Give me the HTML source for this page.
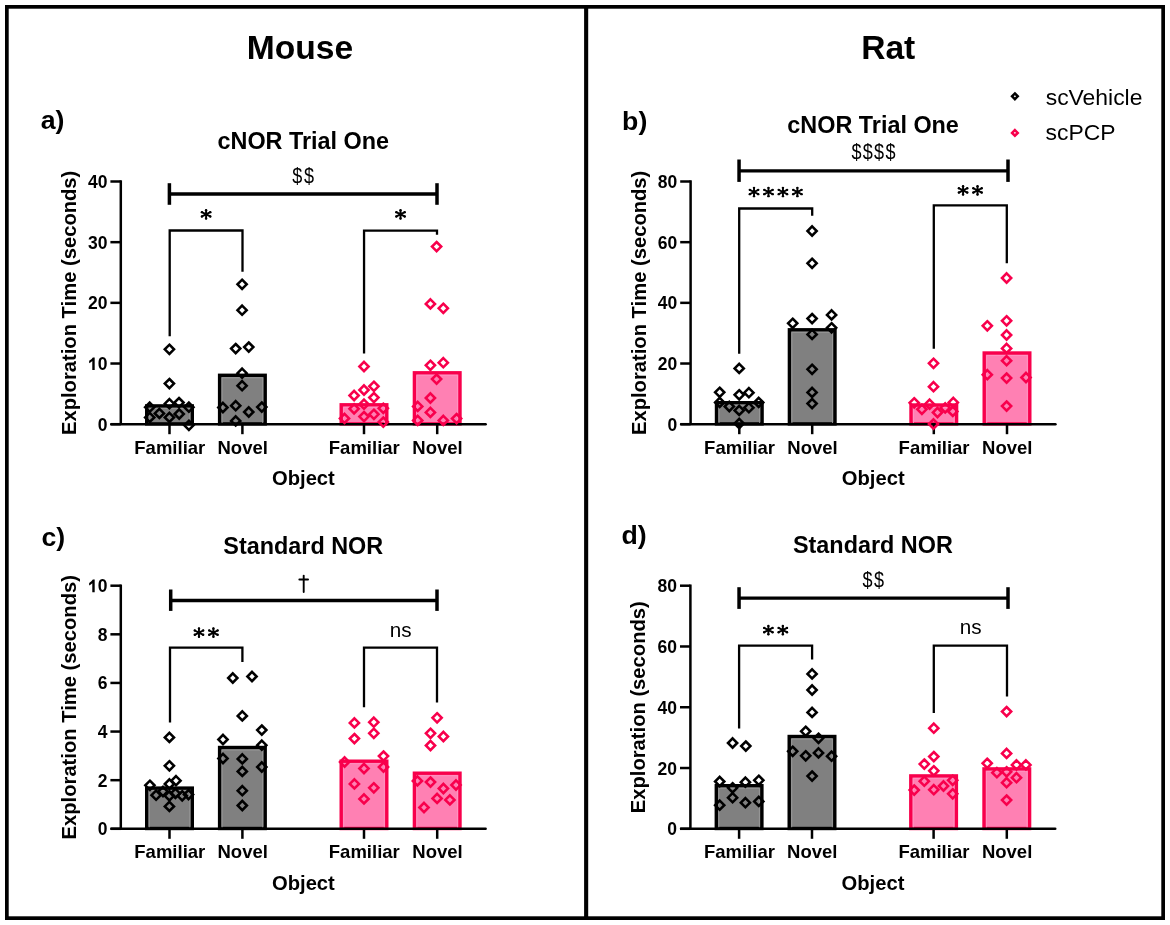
<!DOCTYPE html>
<html><head><meta charset="utf-8"><title>Figure</title>
<style>
html,body{margin:0;padding:0;background:#fff;width:1170px;height:925px;overflow:hidden;}
svg{display:block;will-change:transform;}
text{font-family:"Liberation Sans", sans-serif;fill:#000;}
</style></head><body>
<svg width="1170" height="925" viewBox="0 0 1170 925">
<rect width="1170" height="925" fill="#fff"/>
<rect x="6.85" y="6.85" width="1156.3" height="911.3" fill="none" stroke="#000" stroke-width="3.7"/>
<rect x="584.1" y="5" width="4.1" height="915" fill="#000"/>
<text x="300.00" y="59.30" font-size="33.6" font-weight="bold" text-anchor="middle" >Mouse</text>
<text x="888.20" y="59.40" font-size="33.6" font-weight="bold" text-anchor="middle" >Rat</text>
<text x="40.70" y="129.30" font-size="26.7" font-weight="bold" text-anchor="start" >a)</text>
<text x="622.10" y="129.60" font-size="26.7" font-weight="bold" text-anchor="start" >b)</text>
<text x="41.50" y="546.20" font-size="26.7" font-weight="bold" text-anchor="start" >c)</text>
<text x="621.40" y="544.20" font-size="26.7" font-weight="bold" text-anchor="start" >d)</text>
<text x="303.30" y="149.40" font-size="23.4" font-weight="bold" text-anchor="middle" >cNOR Trial One</text>
<text transform="translate(75.70,302.85) rotate(-90)" x="0" y="0" font-size="20.2" font-weight="bold" text-anchor="middle">Exploration Time (seconds)</text>
<rect x="146.70" y="405.90" width="45.6" height="18.00" fill="#808080" stroke="#000" stroke-width="3.4"/>
<path d="M149.20 422.90V408.40H189.80V422.90" fill="none" stroke="#989898" stroke-width="1"/>
<rect x="219.60" y="375.30" width="45.6" height="48.60" fill="#808080" stroke="#000" stroke-width="3.4"/>
<path d="M222.10 422.90V377.80H262.70V422.90" fill="none" stroke="#989898" stroke-width="1"/>
<rect x="341.20" y="404.80" width="45.6" height="19.10" fill="#ff80b3" stroke="#f8004c" stroke-width="3.4"/>
<path d="M343.70 422.90V407.30H384.30V422.90" fill="none" stroke="#ff92c0" stroke-width="1"/>
<rect x="414.40" y="372.80" width="45.6" height="51.10" fill="#ff80b3" stroke="#f8004c" stroke-width="3.4"/>
<path d="M416.90 422.90V375.30H457.50V422.90" fill="none" stroke="#ff92c0" stroke-width="1"/>
<line x1="120.80" y1="180.30" x2="120.80" y2="424.20" stroke="#000" stroke-width="2.5" stroke-linecap="butt"/>
<line x1="111.50" y1="424.20" x2="485.60" y2="424.20" stroke="#000" stroke-width="2.6" stroke-linecap="round"/>
<line x1="110.40" y1="424.20" x2="120.80" y2="424.20" stroke="#000" stroke-width="2.5" stroke-linecap="butt"/>
<text x="107.40" y="430.70" font-size="17.5" font-weight="bold" text-anchor="end" >0</text>
<line x1="110.40" y1="363.52" x2="120.80" y2="363.52" stroke="#000" stroke-width="2.5" stroke-linecap="butt"/>
<path d="M92.29 370.02H94.69V357.42H92.84Q91.74 359.42 89.14 360.72V363.32Q90.94 362.52 92.29 361.12Z" fill="#000"/>
<text x="107.40" y="370.02" font-size="17.5" font-weight="bold" text-anchor="end" >0</text>
<line x1="110.40" y1="302.85" x2="120.80" y2="302.85" stroke="#000" stroke-width="2.5" stroke-linecap="butt"/>
<text x="107.40" y="309.35" font-size="17.5" font-weight="bold" text-anchor="end" >20</text>
<line x1="110.40" y1="242.17" x2="120.80" y2="242.17" stroke="#000" stroke-width="2.5" stroke-linecap="butt"/>
<text x="107.40" y="248.67" font-size="17.5" font-weight="bold" text-anchor="end" >30</text>
<line x1="110.40" y1="181.50" x2="120.80" y2="181.50" stroke="#000" stroke-width="2.5" stroke-linecap="butt"/>
<text x="107.40" y="188.00" font-size="17.5" font-weight="bold" text-anchor="end" >40</text>
<line x1="169.50" y1="424.20" x2="169.50" y2="434.20" stroke="#000" stroke-width="2.5" stroke-linecap="butt"/>
<line x1="242.40" y1="424.20" x2="242.40" y2="434.20" stroke="#000" stroke-width="2.5" stroke-linecap="butt"/>
<line x1="364.00" y1="424.20" x2="364.00" y2="434.20" stroke="#000" stroke-width="2.5" stroke-linecap="butt"/>
<line x1="437.20" y1="424.20" x2="437.20" y2="434.20" stroke="#000" stroke-width="2.5" stroke-linecap="butt"/>
<path d="M169.40 344.70L174.00 349.30L169.40 353.90L164.80 349.30Z" fill="none" stroke="#000" stroke-width="2.55" stroke-linejoin="miter"/>
<path d="M169.40 379.00L174.00 383.60L169.40 388.20L164.80 383.60Z" fill="none" stroke="#000" stroke-width="2.55" stroke-linejoin="miter"/>
<path d="M169.40 399.10L174.00 403.70L169.40 408.30L164.80 403.70Z" fill="none" stroke="#000" stroke-width="2.55" stroke-linejoin="miter"/>
<path d="M179.00 398.00L183.60 402.60L179.00 407.20L174.40 402.60Z" fill="none" stroke="#000" stroke-width="2.55" stroke-linejoin="miter"/>
<path d="M149.70 402.60L154.30 407.20L149.70 411.80L145.10 407.20Z" fill="none" stroke="#000" stroke-width="2.55" stroke-linejoin="miter"/>
<path d="M159.40 408.80L164.00 413.40L159.40 418.00L154.80 413.40Z" fill="none" stroke="#000" stroke-width="2.55" stroke-linejoin="miter"/>
<path d="M169.40 412.80L174.00 417.40L169.40 422.00L164.80 417.40Z" fill="none" stroke="#000" stroke-width="2.55" stroke-linejoin="miter"/>
<path d="M179.20 409.40L183.80 414.00L179.20 418.60L174.60 414.00Z" fill="none" stroke="#000" stroke-width="2.55" stroke-linejoin="miter"/>
<path d="M188.90 402.60L193.50 407.20L188.90 411.80L184.30 407.20Z" fill="none" stroke="#000" stroke-width="2.55" stroke-linejoin="miter"/>
<path d="M188.90 420.70L193.50 425.30L188.90 429.90L184.30 425.30Z" fill="none" stroke="#000" stroke-width="2.55" stroke-linejoin="miter"/>
<path d="M149.70 412.80L154.30 417.40L149.70 422.00L145.10 417.40Z" fill="none" stroke="#000" stroke-width="2.55" stroke-linejoin="miter"/>
<path d="M242.10 279.70L246.70 284.30L242.10 288.90L237.50 284.30Z" fill="none" stroke="#000" stroke-width="2.55" stroke-linejoin="miter"/>
<path d="M242.10 305.60L246.70 310.20L242.10 314.80L237.50 310.20Z" fill="none" stroke="#000" stroke-width="2.55" stroke-linejoin="miter"/>
<path d="M235.70 344.00L240.30 348.60L235.70 353.20L231.10 348.60Z" fill="none" stroke="#000" stroke-width="2.55" stroke-linejoin="miter"/>
<path d="M248.75 342.50L253.35 347.10L248.75 351.70L244.15 347.10Z" fill="none" stroke="#000" stroke-width="2.55" stroke-linejoin="miter"/>
<path d="M242.10 368.60L246.70 373.20L242.10 377.80L237.50 373.20Z" fill="none" stroke="#000" stroke-width="2.55" stroke-linejoin="miter"/>
<path d="M242.10 381.10L246.70 385.70L242.10 390.30L237.50 385.70Z" fill="none" stroke="#000" stroke-width="2.55" stroke-linejoin="miter"/>
<path d="M222.90 402.90L227.50 407.50L222.90 412.10L218.30 407.50Z" fill="none" stroke="#000" stroke-width="2.55" stroke-linejoin="miter"/>
<path d="M235.70 401.10L240.30 405.70L235.70 410.30L231.10 405.70Z" fill="none" stroke="#000" stroke-width="2.55" stroke-linejoin="miter"/>
<path d="M248.75 407.40L253.35 412.00L248.75 416.60L244.15 412.00Z" fill="none" stroke="#000" stroke-width="2.55" stroke-linejoin="miter"/>
<path d="M261.80 402.50L266.40 407.10L261.80 411.70L257.20 407.10Z" fill="none" stroke="#000" stroke-width="2.55" stroke-linejoin="miter"/>
<path d="M235.70 416.30L240.30 420.90L235.70 425.50L231.10 420.90Z" fill="none" stroke="#000" stroke-width="2.55" stroke-linejoin="miter"/>
<path d="M364.00 361.90L368.60 366.50L364.00 371.10L359.40 366.50Z" fill="none" stroke="#f8004c" stroke-width="2.55" stroke-linejoin="miter"/>
<path d="M373.90 381.70L378.50 386.30L373.90 390.90L369.30 386.30Z" fill="none" stroke="#f8004c" stroke-width="2.55" stroke-linejoin="miter"/>
<path d="M364.00 385.40L368.60 390.00L364.00 394.60L359.40 390.00Z" fill="none" stroke="#f8004c" stroke-width="2.55" stroke-linejoin="miter"/>
<path d="M354.10 390.90L358.70 395.50L354.10 400.10L349.50 395.50Z" fill="none" stroke="#f8004c" stroke-width="2.55" stroke-linejoin="miter"/>
<path d="M373.90 393.00L378.50 397.60L373.90 402.20L369.30 397.60Z" fill="none" stroke="#f8004c" stroke-width="2.55" stroke-linejoin="miter"/>
<path d="M364.00 399.60L368.60 404.20L364.00 408.80L359.40 404.20Z" fill="none" stroke="#f8004c" stroke-width="2.55" stroke-linejoin="miter"/>
<path d="M354.10 404.20L358.70 408.80L354.10 413.40L349.50 408.80Z" fill="none" stroke="#f8004c" stroke-width="2.55" stroke-linejoin="miter"/>
<path d="M383.30 403.70L387.90 408.30L383.30 412.90L378.70 408.30Z" fill="none" stroke="#f8004c" stroke-width="2.55" stroke-linejoin="miter"/>
<path d="M373.90 409.70L378.50 414.30L373.90 418.90L369.30 414.30Z" fill="none" stroke="#f8004c" stroke-width="2.55" stroke-linejoin="miter"/>
<path d="M364.00 412.00L368.60 416.60L364.00 421.20L359.40 416.60Z" fill="none" stroke="#f8004c" stroke-width="2.55" stroke-linejoin="miter"/>
<path d="M344.50 413.80L349.10 418.40L344.50 423.00L339.90 418.40Z" fill="none" stroke="#f8004c" stroke-width="2.55" stroke-linejoin="miter"/>
<path d="M383.30 417.50L387.90 422.10L383.30 426.70L378.70 422.10Z" fill="none" stroke="#f8004c" stroke-width="2.55" stroke-linejoin="miter"/>
<path d="M436.60 242.00L441.20 246.60L436.60 251.20L432.00 246.60Z" fill="none" stroke="#f8004c" stroke-width="2.55" stroke-linejoin="miter"/>
<path d="M430.40 299.30L435.00 303.90L430.40 308.50L425.80 303.90Z" fill="none" stroke="#f8004c" stroke-width="2.55" stroke-linejoin="miter"/>
<path d="M443.30 303.70L447.90 308.30L443.30 312.90L438.70 308.30Z" fill="none" stroke="#f8004c" stroke-width="2.55" stroke-linejoin="miter"/>
<path d="M430.40 360.70L435.00 365.30L430.40 369.90L425.80 365.30Z" fill="none" stroke="#f8004c" stroke-width="2.55" stroke-linejoin="miter"/>
<path d="M443.30 358.10L447.90 362.70L443.30 367.30L438.70 362.70Z" fill="none" stroke="#f8004c" stroke-width="2.55" stroke-linejoin="miter"/>
<path d="M436.60 374.50L441.20 379.10L436.60 383.70L432.00 379.10Z" fill="none" stroke="#f8004c" stroke-width="2.55" stroke-linejoin="miter"/>
<path d="M430.40 393.40L435.00 398.00L430.40 402.60L425.80 398.00Z" fill="none" stroke="#f8004c" stroke-width="2.55" stroke-linejoin="miter"/>
<path d="M417.70 401.80L422.30 406.40L417.70 411.00L413.10 406.40Z" fill="none" stroke="#f8004c" stroke-width="2.55" stroke-linejoin="miter"/>
<path d="M430.40 407.80L435.00 412.40L430.40 417.00L425.80 412.40Z" fill="none" stroke="#f8004c" stroke-width="2.55" stroke-linejoin="miter"/>
<path d="M417.70 415.80L422.30 420.40L417.70 425.00L413.10 420.40Z" fill="none" stroke="#f8004c" stroke-width="2.55" stroke-linejoin="miter"/>
<path d="M443.30 415.80L447.90 420.40L443.30 425.00L438.70 420.40Z" fill="none" stroke="#f8004c" stroke-width="2.55" stroke-linejoin="miter"/>
<path d="M456.60 414.00L461.20 418.60L456.60 423.20L452.00 418.60Z" fill="none" stroke="#f8004c" stroke-width="2.55" stroke-linejoin="miter"/>
<text x="169.80" y="453.70" font-size="18.5" font-weight="bold" text-anchor="middle" >Familiar</text>
<text x="242.70" y="453.70" font-size="18.5" font-weight="bold" text-anchor="middle" >Novel</text>
<text x="364.30" y="453.70" font-size="18.5" font-weight="bold" text-anchor="middle" >Familiar</text>
<text x="437.50" y="453.70" font-size="18.5" font-weight="bold" text-anchor="middle" >Novel</text>
<text x="303.40" y="485.00" font-size="20.2" font-weight="bold" text-anchor="middle" >Object</text>
<line x1="169.40" y1="194.00" x2="437.00" y2="194.00" stroke="#000" stroke-width="3.3" stroke-linecap="butt"/>
<line x1="169.40" y1="183.20" x2="169.40" y2="204.80" stroke="#000" stroke-width="3.5" stroke-linecap="butt"/>
<line x1="437.00" y1="183.20" x2="437.00" y2="204.80" stroke="#000" stroke-width="3.5" stroke-linecap="butt"/>
<text transform="translate(297.20,182.80) scale(0.82,1)" font-size="22" font-weight="normal" text-anchor="middle">$</text>
<text transform="translate(308.90,182.80) scale(0.82,1)" font-size="22" font-weight="normal" text-anchor="middle">$</text>
<path d="M169.70 336.30V230.50H242.50V271.70" fill="none" stroke="#000" stroke-width="2.3" stroke-linejoin="miter"/>
<path d="M206.10 214.30L206.10 210.15M206.10 214.30L206.10 218.45M206.10 214.30L201.91 212.17M206.10 214.30L201.91 216.43M206.10 214.30L210.29 212.17M206.10 214.30L210.29 216.43" stroke="#000" stroke-width="1.9" stroke-linecap="round" fill="none"/>
<circle cx="206.10" cy="210.15" r="1.2" fill="#000"/>
<circle cx="206.10" cy="218.45" r="1.2" fill="#000"/>
<circle cx="201.91" cy="212.17" r="1.2" fill="#000"/>
<circle cx="201.91" cy="216.43" r="1.2" fill="#000"/>
<circle cx="210.29" cy="212.17" r="1.2" fill="#000"/>
<circle cx="210.29" cy="216.43" r="1.2" fill="#000"/>
<path d="M364.05 353.50V230.60H437.00V234.80" fill="none" stroke="#000" stroke-width="2.3" stroke-linejoin="miter"/>
<path d="M400.52 214.30L400.52 210.15M400.52 214.30L400.52 218.45M400.52 214.30L396.34 212.17M400.52 214.30L396.34 216.43M400.52 214.30L404.71 212.17M400.52 214.30L404.71 216.43" stroke="#000" stroke-width="1.9" stroke-linecap="round" fill="none"/>
<circle cx="400.52" cy="210.15" r="1.2" fill="#000"/>
<circle cx="400.52" cy="218.45" r="1.2" fill="#000"/>
<circle cx="396.34" cy="212.17" r="1.2" fill="#000"/>
<circle cx="396.34" cy="216.43" r="1.2" fill="#000"/>
<circle cx="404.71" cy="212.17" r="1.2" fill="#000"/>
<circle cx="404.71" cy="216.43" r="1.2" fill="#000"/>
<text x="873.10" y="132.70" font-size="23.4" font-weight="bold" text-anchor="middle" >cNOR Trial One</text>
<text transform="translate(645.50,302.85) rotate(-90)" x="0" y="0" font-size="20.2" font-weight="bold" text-anchor="middle">Exploration Time (seconds)</text>
<rect x="716.50" y="402.70" width="45.6" height="21.20" fill="#808080" stroke="#000" stroke-width="3.4"/>
<path d="M719.00 422.90V405.20H759.60V422.90" fill="none" stroke="#989898" stroke-width="1"/>
<rect x="789.40" y="329.80" width="45.6" height="94.10" fill="#808080" stroke="#000" stroke-width="3.4"/>
<path d="M791.90 422.90V332.30H832.50V422.90" fill="none" stroke="#989898" stroke-width="1"/>
<rect x="911.00" y="405.00" width="45.6" height="18.90" fill="#ff80b3" stroke="#f8004c" stroke-width="3.4"/>
<path d="M913.50 422.90V407.50H954.10V422.90" fill="none" stroke="#ff92c0" stroke-width="1"/>
<rect x="984.20" y="353.00" width="45.6" height="70.90" fill="#ff80b3" stroke="#f8004c" stroke-width="3.4"/>
<path d="M986.70 422.90V355.50H1027.30V422.90" fill="none" stroke="#ff92c0" stroke-width="1"/>
<line x1="690.60" y1="180.30" x2="690.60" y2="424.20" stroke="#000" stroke-width="2.5" stroke-linecap="butt"/>
<line x1="681.30" y1="424.20" x2="1055.40" y2="424.20" stroke="#000" stroke-width="2.6" stroke-linecap="round"/>
<line x1="680.20" y1="424.20" x2="690.60" y2="424.20" stroke="#000" stroke-width="2.5" stroke-linecap="butt"/>
<text x="677.20" y="430.70" font-size="17.5" font-weight="bold" text-anchor="end" >0</text>
<line x1="680.20" y1="363.52" x2="690.60" y2="363.52" stroke="#000" stroke-width="2.5" stroke-linecap="butt"/>
<text x="677.20" y="370.02" font-size="17.5" font-weight="bold" text-anchor="end" >20</text>
<line x1="680.20" y1="302.85" x2="690.60" y2="302.85" stroke="#000" stroke-width="2.5" stroke-linecap="butt"/>
<text x="677.20" y="309.35" font-size="17.5" font-weight="bold" text-anchor="end" >40</text>
<line x1="680.20" y1="242.17" x2="690.60" y2="242.17" stroke="#000" stroke-width="2.5" stroke-linecap="butt"/>
<text x="677.20" y="248.67" font-size="17.5" font-weight="bold" text-anchor="end" >60</text>
<line x1="680.20" y1="181.50" x2="690.60" y2="181.50" stroke="#000" stroke-width="2.5" stroke-linecap="butt"/>
<text x="677.20" y="188.00" font-size="17.5" font-weight="bold" text-anchor="end" >80</text>
<line x1="739.30" y1="424.20" x2="739.30" y2="434.20" stroke="#000" stroke-width="2.5" stroke-linecap="butt"/>
<line x1="812.20" y1="424.20" x2="812.20" y2="434.20" stroke="#000" stroke-width="2.5" stroke-linecap="butt"/>
<line x1="933.80" y1="424.20" x2="933.80" y2="434.20" stroke="#000" stroke-width="2.5" stroke-linecap="butt"/>
<line x1="1007.00" y1="424.20" x2="1007.00" y2="434.20" stroke="#000" stroke-width="2.5" stroke-linecap="butt"/>
<path d="M739.20 363.80L743.80 368.40L739.20 373.00L734.60 368.40Z" fill="none" stroke="#000" stroke-width="2.55" stroke-linejoin="miter"/>
<path d="M719.70 387.70L724.30 392.30L719.70 396.90L715.10 392.30Z" fill="none" stroke="#000" stroke-width="2.55" stroke-linejoin="miter"/>
<path d="M739.20 390.20L743.80 394.80L739.20 399.40L734.60 394.80Z" fill="none" stroke="#000" stroke-width="2.55" stroke-linejoin="miter"/>
<path d="M748.90 388.10L753.50 392.70L748.90 397.30L744.30 392.70Z" fill="none" stroke="#000" stroke-width="2.55" stroke-linejoin="miter"/>
<path d="M719.70 397.80L724.30 402.40L719.70 407.00L715.10 402.40Z" fill="none" stroke="#000" stroke-width="2.55" stroke-linejoin="miter"/>
<path d="M758.70 397.80L763.30 402.40L758.70 407.00L754.10 402.40Z" fill="none" stroke="#000" stroke-width="2.55" stroke-linejoin="miter"/>
<path d="M729.30 401.90L733.90 406.50L729.30 411.10L724.70 406.50Z" fill="none" stroke="#000" stroke-width="2.55" stroke-linejoin="miter"/>
<path d="M748.90 403.10L753.50 407.70L748.90 412.30L744.30 407.70Z" fill="none" stroke="#000" stroke-width="2.55" stroke-linejoin="miter"/>
<path d="M739.20 405.80L743.80 410.40L739.20 415.00L734.60 410.40Z" fill="none" stroke="#000" stroke-width="2.55" stroke-linejoin="miter"/>
<path d="M739.20 418.90L743.80 423.50L739.20 428.10L734.60 423.50Z" fill="none" stroke="#000" stroke-width="2.55" stroke-linejoin="miter"/>
<path d="M812.10 226.40L816.70 231.00L812.10 235.60L807.50 231.00Z" fill="none" stroke="#000" stroke-width="2.55" stroke-linejoin="miter"/>
<path d="M812.10 258.70L816.70 263.30L812.10 267.90L807.50 263.30Z" fill="none" stroke="#000" stroke-width="2.55" stroke-linejoin="miter"/>
<path d="M792.70 318.70L797.30 323.30L792.70 327.90L788.10 323.30Z" fill="none" stroke="#000" stroke-width="2.55" stroke-linejoin="miter"/>
<path d="M812.10 314.00L816.70 318.60L812.10 323.20L807.50 318.60Z" fill="none" stroke="#000" stroke-width="2.55" stroke-linejoin="miter"/>
<path d="M831.60 310.30L836.20 314.90L831.60 319.50L827.00 314.90Z" fill="none" stroke="#000" stroke-width="2.55" stroke-linejoin="miter"/>
<path d="M831.60 323.20L836.20 327.80L831.60 332.40L827.00 327.80Z" fill="none" stroke="#000" stroke-width="2.55" stroke-linejoin="miter"/>
<path d="M812.10 329.80L816.70 334.40L812.10 339.00L807.50 334.40Z" fill="none" stroke="#000" stroke-width="2.55" stroke-linejoin="miter"/>
<path d="M812.10 364.70L816.70 369.30L812.10 373.90L807.50 369.30Z" fill="none" stroke="#000" stroke-width="2.55" stroke-linejoin="miter"/>
<path d="M812.10 387.80L816.70 392.40L812.10 397.00L807.50 392.40Z" fill="none" stroke="#000" stroke-width="2.55" stroke-linejoin="miter"/>
<path d="M812.10 399.00L816.70 403.60L812.10 408.20L807.50 403.60Z" fill="none" stroke="#000" stroke-width="2.55" stroke-linejoin="miter"/>
<path d="M933.50 358.70L938.10 363.30L933.50 367.90L928.90 363.30Z" fill="none" stroke="#f8004c" stroke-width="2.55" stroke-linejoin="miter"/>
<path d="M933.50 382.10L938.10 386.70L933.50 391.30L928.90 386.70Z" fill="none" stroke="#f8004c" stroke-width="2.55" stroke-linejoin="miter"/>
<path d="M914.20 398.20L918.80 402.80L914.20 407.40L909.60 402.80Z" fill="none" stroke="#f8004c" stroke-width="2.55" stroke-linejoin="miter"/>
<path d="M929.60 399.60L934.20 404.20L929.60 408.80L925.00 404.20Z" fill="none" stroke="#f8004c" stroke-width="2.55" stroke-linejoin="miter"/>
<path d="M953.30 397.80L957.90 402.40L953.30 407.00L948.70 402.40Z" fill="none" stroke="#f8004c" stroke-width="2.55" stroke-linejoin="miter"/>
<path d="M921.90 404.70L926.50 409.30L921.90 413.90L917.30 409.30Z" fill="none" stroke="#f8004c" stroke-width="2.55" stroke-linejoin="miter"/>
<path d="M937.50 407.90L942.10 412.50L937.50 417.10L932.90 412.50Z" fill="none" stroke="#f8004c" stroke-width="2.55" stroke-linejoin="miter"/>
<path d="M945.20 403.30L949.80 407.90L945.20 412.50L940.60 407.90Z" fill="none" stroke="#f8004c" stroke-width="2.55" stroke-linejoin="miter"/>
<path d="M952.80 406.80L957.40 411.40L952.80 416.00L948.20 411.40Z" fill="none" stroke="#f8004c" stroke-width="2.55" stroke-linejoin="miter"/>
<path d="M933.50 419.40L938.10 424.00L933.50 428.60L928.90 424.00Z" fill="none" stroke="#f8004c" stroke-width="2.55" stroke-linejoin="miter"/>
<path d="M1006.60 273.40L1011.20 278.00L1006.60 282.60L1002.00 278.00Z" fill="none" stroke="#f8004c" stroke-width="2.55" stroke-linejoin="miter"/>
<path d="M987.30 321.20L991.90 325.80L987.30 330.40L982.70 325.80Z" fill="none" stroke="#f8004c" stroke-width="2.55" stroke-linejoin="miter"/>
<path d="M1006.60 316.20L1011.20 320.80L1006.60 325.40L1002.00 320.80Z" fill="none" stroke="#f8004c" stroke-width="2.55" stroke-linejoin="miter"/>
<path d="M1006.60 330.40L1011.20 335.00L1006.60 339.60L1002.00 335.00Z" fill="none" stroke="#f8004c" stroke-width="2.55" stroke-linejoin="miter"/>
<path d="M1006.60 343.80L1011.20 348.40L1006.60 353.00L1002.00 348.40Z" fill="none" stroke="#f8004c" stroke-width="2.55" stroke-linejoin="miter"/>
<path d="M1006.60 356.10L1011.20 360.70L1006.60 365.30L1002.00 360.70Z" fill="none" stroke="#f8004c" stroke-width="2.55" stroke-linejoin="miter"/>
<path d="M987.30 370.10L991.90 374.70L987.30 379.30L982.70 374.70Z" fill="none" stroke="#f8004c" stroke-width="2.55" stroke-linejoin="miter"/>
<path d="M1006.60 373.50L1011.20 378.10L1006.60 382.70L1002.00 378.10Z" fill="none" stroke="#f8004c" stroke-width="2.55" stroke-linejoin="miter"/>
<path d="M1026.00 372.90L1030.60 377.50L1026.00 382.10L1021.40 377.50Z" fill="none" stroke="#f8004c" stroke-width="2.55" stroke-linejoin="miter"/>
<path d="M1006.60 401.50L1011.20 406.10L1006.60 410.70L1002.00 406.10Z" fill="none" stroke="#f8004c" stroke-width="2.55" stroke-linejoin="miter"/>
<text x="739.60" y="453.70" font-size="18.5" font-weight="bold" text-anchor="middle" >Familiar</text>
<text x="812.50" y="453.70" font-size="18.5" font-weight="bold" text-anchor="middle" >Novel</text>
<text x="934.10" y="453.70" font-size="18.5" font-weight="bold" text-anchor="middle" >Familiar</text>
<text x="1007.30" y="453.70" font-size="18.5" font-weight="bold" text-anchor="middle" >Novel</text>
<text x="873.20" y="485.00" font-size="20.2" font-weight="bold" text-anchor="middle" >Object</text>
<line x1="739.05" y1="170.85" x2="1008.00" y2="170.85" stroke="#000" stroke-width="3.3" stroke-linecap="butt"/>
<line x1="739.05" y1="159.50" x2="739.05" y2="181.90" stroke="#000" stroke-width="3.5" stroke-linecap="butt"/>
<line x1="1008.00" y1="159.50" x2="1008.00" y2="181.90" stroke="#000" stroke-width="3.5" stroke-linecap="butt"/>
<text transform="translate(856.40,159.20) scale(0.82,1)" font-size="22" font-weight="normal" text-anchor="middle">$</text>
<text transform="translate(867.70,159.20) scale(0.82,1)" font-size="22" font-weight="normal" text-anchor="middle">$</text>
<text transform="translate(879.00,159.20) scale(0.82,1)" font-size="22" font-weight="normal" text-anchor="middle">$</text>
<text transform="translate(890.40,159.20) scale(0.82,1)" font-size="22" font-weight="normal" text-anchor="middle">$</text>
<path d="M739.20 353.80V208.50H812.20V215.80" fill="none" stroke="#000" stroke-width="2.3" stroke-linejoin="miter"/>
<path d="M754.03 192.00L754.03 187.85M754.03 192.00L754.03 196.15M754.03 192.00L749.84 189.87M754.03 192.00L749.84 194.13M754.03 192.00L758.21 189.87M754.03 192.00L758.21 194.13" stroke="#000" stroke-width="1.9" stroke-linecap="round" fill="none"/>
<circle cx="754.03" cy="187.85" r="1.2" fill="#000"/>
<circle cx="754.03" cy="196.15" r="1.2" fill="#000"/>
<circle cx="749.84" cy="189.87" r="1.2" fill="#000"/>
<circle cx="749.84" cy="194.13" r="1.2" fill="#000"/>
<circle cx="758.21" cy="189.87" r="1.2" fill="#000"/>
<circle cx="758.21" cy="194.13" r="1.2" fill="#000"/>
<path d="M768.48 192.00L768.48 187.85M768.48 192.00L768.48 196.15M768.48 192.00L764.29 189.87M768.48 192.00L764.29 194.13M768.48 192.00L772.66 189.87M768.48 192.00L772.66 194.13" stroke="#000" stroke-width="1.9" stroke-linecap="round" fill="none"/>
<circle cx="768.48" cy="187.85" r="1.2" fill="#000"/>
<circle cx="768.48" cy="196.15" r="1.2" fill="#000"/>
<circle cx="764.29" cy="189.87" r="1.2" fill="#000"/>
<circle cx="764.29" cy="194.13" r="1.2" fill="#000"/>
<circle cx="772.66" cy="189.87" r="1.2" fill="#000"/>
<circle cx="772.66" cy="194.13" r="1.2" fill="#000"/>
<path d="M782.93 192.00L782.93 187.85M782.93 192.00L782.93 196.15M782.93 192.00L778.74 189.87M782.93 192.00L778.74 194.13M782.93 192.00L787.11 189.87M782.93 192.00L787.11 194.13" stroke="#000" stroke-width="1.9" stroke-linecap="round" fill="none"/>
<circle cx="782.93" cy="187.85" r="1.2" fill="#000"/>
<circle cx="782.93" cy="196.15" r="1.2" fill="#000"/>
<circle cx="778.74" cy="189.87" r="1.2" fill="#000"/>
<circle cx="778.74" cy="194.13" r="1.2" fill="#000"/>
<circle cx="787.11" cy="189.87" r="1.2" fill="#000"/>
<circle cx="787.11" cy="194.13" r="1.2" fill="#000"/>
<path d="M797.38 192.00L797.38 187.85M797.38 192.00L797.38 196.15M797.38 192.00L793.19 189.87M797.38 192.00L793.19 194.13M797.38 192.00L801.56 189.87M797.38 192.00L801.56 194.13" stroke="#000" stroke-width="1.9" stroke-linecap="round" fill="none"/>
<circle cx="797.38" cy="187.85" r="1.2" fill="#000"/>
<circle cx="797.38" cy="196.15" r="1.2" fill="#000"/>
<circle cx="793.19" cy="189.87" r="1.2" fill="#000"/>
<circle cx="793.19" cy="194.13" r="1.2" fill="#000"/>
<circle cx="801.56" cy="189.87" r="1.2" fill="#000"/>
<circle cx="801.56" cy="194.13" r="1.2" fill="#000"/>
<path d="M933.80 348.70V205.40H1006.80V263.20" fill="none" stroke="#000" stroke-width="2.3" stroke-linejoin="miter"/>
<path d="M963.07 190.40L963.07 186.25M963.07 190.40L963.07 194.55M963.07 190.40L958.89 188.27M963.07 190.40L958.89 192.53M963.07 190.40L967.26 188.27M963.07 190.40L967.26 192.53" stroke="#000" stroke-width="1.9" stroke-linecap="round" fill="none"/>
<circle cx="963.07" cy="186.25" r="1.2" fill="#000"/>
<circle cx="963.07" cy="194.55" r="1.2" fill="#000"/>
<circle cx="958.89" cy="188.27" r="1.2" fill="#000"/>
<circle cx="958.89" cy="192.53" r="1.2" fill="#000"/>
<circle cx="967.26" cy="188.27" r="1.2" fill="#000"/>
<circle cx="967.26" cy="192.53" r="1.2" fill="#000"/>
<path d="M977.52 190.40L977.52 186.25M977.52 190.40L977.52 194.55M977.52 190.40L973.34 188.27M977.52 190.40L973.34 192.53M977.52 190.40L981.71 188.27M977.52 190.40L981.71 192.53" stroke="#000" stroke-width="1.9" stroke-linecap="round" fill="none"/>
<circle cx="977.52" cy="186.25" r="1.2" fill="#000"/>
<circle cx="977.52" cy="194.55" r="1.2" fill="#000"/>
<circle cx="973.34" cy="188.27" r="1.2" fill="#000"/>
<circle cx="973.34" cy="192.53" r="1.2" fill="#000"/>
<circle cx="981.71" cy="188.27" r="1.2" fill="#000"/>
<circle cx="981.71" cy="192.53" r="1.2" fill="#000"/>
<text x="303.30" y="553.50" font-size="23.4" font-weight="bold" text-anchor="middle" >Standard NOR</text>
<text transform="translate(75.70,707.25) rotate(-90)" x="0" y="0" font-size="20.2" font-weight="bold" text-anchor="middle">Exploration Time (seconds)</text>
<rect x="146.70" y="788.10" width="45.6" height="40.40" fill="#808080" stroke="#000" stroke-width="3.4"/>
<path d="M149.20 827.50V790.60H189.80V827.50" fill="none" stroke="#989898" stroke-width="1"/>
<rect x="219.60" y="747.50" width="45.6" height="81.00" fill="#808080" stroke="#000" stroke-width="3.4"/>
<path d="M222.10 827.50V750.00H262.70V827.50" fill="none" stroke="#989898" stroke-width="1"/>
<rect x="341.20" y="761.20" width="45.6" height="67.30" fill="#ff80b3" stroke="#f8004c" stroke-width="3.4"/>
<path d="M343.70 827.50V763.70H384.30V827.50" fill="none" stroke="#ff92c0" stroke-width="1"/>
<rect x="414.40" y="773.20" width="45.6" height="55.30" fill="#ff80b3" stroke="#f8004c" stroke-width="3.4"/>
<path d="M416.90 827.50V775.70H457.50V827.50" fill="none" stroke="#ff92c0" stroke-width="1"/>
<line x1="120.80" y1="584.50" x2="120.80" y2="828.80" stroke="#000" stroke-width="2.5" stroke-linecap="butt"/>
<line x1="111.50" y1="828.80" x2="485.60" y2="828.80" stroke="#000" stroke-width="2.6" stroke-linecap="round"/>
<line x1="110.40" y1="828.80" x2="120.80" y2="828.80" stroke="#000" stroke-width="2.5" stroke-linecap="butt"/>
<text x="107.40" y="835.30" font-size="17.5" font-weight="bold" text-anchor="end" >0</text>
<line x1="110.40" y1="780.18" x2="120.80" y2="780.18" stroke="#000" stroke-width="2.5" stroke-linecap="butt"/>
<text x="107.40" y="786.68" font-size="17.5" font-weight="bold" text-anchor="end" >2</text>
<line x1="110.40" y1="731.56" x2="120.80" y2="731.56" stroke="#000" stroke-width="2.5" stroke-linecap="butt"/>
<text x="107.40" y="738.06" font-size="17.5" font-weight="bold" text-anchor="end" >4</text>
<line x1="110.40" y1="682.94" x2="120.80" y2="682.94" stroke="#000" stroke-width="2.5" stroke-linecap="butt"/>
<text x="107.40" y="689.44" font-size="17.5" font-weight="bold" text-anchor="end" >6</text>
<line x1="110.40" y1="634.32" x2="120.80" y2="634.32" stroke="#000" stroke-width="2.5" stroke-linecap="butt"/>
<text x="107.40" y="640.82" font-size="17.5" font-weight="bold" text-anchor="end" >8</text>
<line x1="110.40" y1="585.70" x2="120.80" y2="585.70" stroke="#000" stroke-width="2.5" stroke-linecap="butt"/>
<path d="M92.29 592.20H94.69V579.60H92.84Q91.74 581.60 89.14 582.90V585.50Q90.94 584.70 92.29 583.30Z" fill="#000"/>
<text x="107.40" y="592.20" font-size="17.5" font-weight="bold" text-anchor="end" >0</text>
<line x1="169.50" y1="828.80" x2="169.50" y2="838.80" stroke="#000" stroke-width="2.5" stroke-linecap="butt"/>
<line x1="242.40" y1="828.80" x2="242.40" y2="838.80" stroke="#000" stroke-width="2.5" stroke-linecap="butt"/>
<line x1="364.00" y1="828.80" x2="364.00" y2="838.80" stroke="#000" stroke-width="2.5" stroke-linecap="butt"/>
<line x1="437.20" y1="828.80" x2="437.20" y2="838.80" stroke="#000" stroke-width="2.5" stroke-linecap="butt"/>
<path d="M169.40 732.80L174.00 737.40L169.40 742.00L164.80 737.40Z" fill="none" stroke="#000" stroke-width="2.55" stroke-linejoin="miter"/>
<path d="M169.40 761.20L174.00 765.80L169.40 770.40L164.80 765.80Z" fill="none" stroke="#000" stroke-width="2.55" stroke-linejoin="miter"/>
<path d="M176.00 776.10L180.60 780.70L176.00 785.30L171.40 780.70Z" fill="none" stroke="#000" stroke-width="2.55" stroke-linejoin="miter"/>
<path d="M169.40 779.40L174.00 784.00L169.40 788.60L164.80 784.00Z" fill="none" stroke="#000" stroke-width="2.55" stroke-linejoin="miter"/>
<path d="M149.90 780.70L154.50 785.30L149.90 789.90L145.30 785.30Z" fill="none" stroke="#000" stroke-width="2.55" stroke-linejoin="miter"/>
<path d="M163.00 786.90L167.60 791.50L163.00 796.10L158.40 791.50Z" fill="none" stroke="#000" stroke-width="2.55" stroke-linejoin="miter"/>
<path d="M156.10 790.60L160.70 795.20L156.10 799.80L151.50 795.20Z" fill="none" stroke="#000" stroke-width="2.55" stroke-linejoin="miter"/>
<path d="M169.40 791.20L174.00 795.80L169.40 800.40L164.80 795.80Z" fill="none" stroke="#000" stroke-width="2.55" stroke-linejoin="miter"/>
<path d="M175.40 788.80L180.00 793.40L175.40 798.00L170.80 793.40Z" fill="none" stroke="#000" stroke-width="2.55" stroke-linejoin="miter"/>
<path d="M182.20 791.20L186.80 795.80L182.20 800.40L177.60 795.80Z" fill="none" stroke="#000" stroke-width="2.55" stroke-linejoin="miter"/>
<path d="M188.50 790.00L193.10 794.60L188.50 799.20L183.90 794.60Z" fill="none" stroke="#000" stroke-width="2.55" stroke-linejoin="miter"/>
<path d="M169.40 801.80L174.00 806.40L169.40 811.00L164.80 806.40Z" fill="none" stroke="#000" stroke-width="2.55" stroke-linejoin="miter"/>
<path d="M232.80 673.40L237.40 678.00L232.80 682.60L228.20 678.00Z" fill="none" stroke="#000" stroke-width="2.55" stroke-linejoin="miter"/>
<path d="M252.00 671.90L256.60 676.50L252.00 681.10L247.40 676.50Z" fill="none" stroke="#000" stroke-width="2.55" stroke-linejoin="miter"/>
<path d="M242.30 711.30L246.90 715.90L242.30 720.50L237.70 715.90Z" fill="none" stroke="#000" stroke-width="2.55" stroke-linejoin="miter"/>
<path d="M261.80 725.50L266.40 730.10L261.80 734.70L257.20 730.10Z" fill="none" stroke="#000" stroke-width="2.55" stroke-linejoin="miter"/>
<path d="M223.00 734.90L227.60 739.50L223.00 744.10L218.40 739.50Z" fill="none" stroke="#000" stroke-width="2.55" stroke-linejoin="miter"/>
<path d="M261.80 740.60L266.40 745.20L261.80 749.80L257.20 745.20Z" fill="none" stroke="#000" stroke-width="2.55" stroke-linejoin="miter"/>
<path d="M223.00 753.90L227.60 758.50L223.00 763.10L218.40 758.50Z" fill="none" stroke="#000" stroke-width="2.55" stroke-linejoin="miter"/>
<path d="M242.30 754.30L246.90 758.90L242.30 763.50L237.70 758.90Z" fill="none" stroke="#000" stroke-width="2.55" stroke-linejoin="miter"/>
<path d="M242.30 766.80L246.90 771.40L242.30 776.00L237.70 771.40Z" fill="none" stroke="#000" stroke-width="2.55" stroke-linejoin="miter"/>
<path d="M261.80 762.40L266.40 767.00L261.80 771.60L257.20 767.00Z" fill="none" stroke="#000" stroke-width="2.55" stroke-linejoin="miter"/>
<path d="M242.30 786.10L246.90 790.70L242.30 795.30L237.70 790.70Z" fill="none" stroke="#000" stroke-width="2.55" stroke-linejoin="miter"/>
<path d="M242.30 800.90L246.90 805.50L242.30 810.10L237.70 805.50Z" fill="none" stroke="#000" stroke-width="2.55" stroke-linejoin="miter"/>
<path d="M354.40 718.30L359.00 722.90L354.40 727.50L349.80 722.90Z" fill="none" stroke="#f8004c" stroke-width="2.55" stroke-linejoin="miter"/>
<path d="M373.80 717.60L378.40 722.20L373.80 726.80L369.20 722.20Z" fill="none" stroke="#f8004c" stroke-width="2.55" stroke-linejoin="miter"/>
<path d="M354.40 734.00L359.00 738.60L354.40 743.20L349.80 738.60Z" fill="none" stroke="#f8004c" stroke-width="2.55" stroke-linejoin="miter"/>
<path d="M373.80 728.70L378.40 733.30L373.80 737.90L369.20 733.30Z" fill="none" stroke="#f8004c" stroke-width="2.55" stroke-linejoin="miter"/>
<path d="M383.50 751.50L388.10 756.10L383.50 760.70L378.90 756.10Z" fill="none" stroke="#f8004c" stroke-width="2.55" stroke-linejoin="miter"/>
<path d="M344.60 757.40L349.20 762.00L344.60 766.60L340.00 762.00Z" fill="none" stroke="#f8004c" stroke-width="2.55" stroke-linejoin="miter"/>
<path d="M364.00 763.90L368.60 768.50L364.00 773.10L359.40 768.50Z" fill="none" stroke="#f8004c" stroke-width="2.55" stroke-linejoin="miter"/>
<path d="M383.50 762.50L388.10 767.10L383.50 771.70L378.90 767.10Z" fill="none" stroke="#f8004c" stroke-width="2.55" stroke-linejoin="miter"/>
<path d="M354.40 779.30L359.00 783.90L354.40 788.50L349.80 783.90Z" fill="none" stroke="#f8004c" stroke-width="2.55" stroke-linejoin="miter"/>
<path d="M373.80 783.20L378.40 787.80L373.80 792.40L369.20 787.80Z" fill="none" stroke="#f8004c" stroke-width="2.55" stroke-linejoin="miter"/>
<path d="M364.00 794.30L368.60 798.90L364.00 803.50L359.40 798.90Z" fill="none" stroke="#f8004c" stroke-width="2.55" stroke-linejoin="miter"/>
<path d="M437.10 713.20L441.70 717.80L437.10 722.40L432.50 717.80Z" fill="none" stroke="#f8004c" stroke-width="2.55" stroke-linejoin="miter"/>
<path d="M430.50 728.70L435.10 733.30L430.50 737.90L425.90 733.30Z" fill="none" stroke="#f8004c" stroke-width="2.55" stroke-linejoin="miter"/>
<path d="M443.40 731.90L448.00 736.50L443.40 741.10L438.80 736.50Z" fill="none" stroke="#f8004c" stroke-width="2.55" stroke-linejoin="miter"/>
<path d="M430.50 740.90L435.10 745.50L430.50 750.10L425.90 745.50Z" fill="none" stroke="#f8004c" stroke-width="2.55" stroke-linejoin="miter"/>
<path d="M417.40 776.30L422.00 780.90L417.40 785.50L412.80 780.90Z" fill="none" stroke="#f8004c" stroke-width="2.55" stroke-linejoin="miter"/>
<path d="M430.50 777.50L435.10 782.10L430.50 786.70L425.90 782.10Z" fill="none" stroke="#f8004c" stroke-width="2.55" stroke-linejoin="miter"/>
<path d="M456.00 780.40L460.60 785.00L456.00 789.60L451.40 785.00Z" fill="none" stroke="#f8004c" stroke-width="2.55" stroke-linejoin="miter"/>
<path d="M443.40 783.90L448.00 788.50L443.40 793.10L438.80 788.50Z" fill="none" stroke="#f8004c" stroke-width="2.55" stroke-linejoin="miter"/>
<path d="M437.10 793.80L441.70 798.40L437.10 803.00L432.50 798.40Z" fill="none" stroke="#f8004c" stroke-width="2.55" stroke-linejoin="miter"/>
<path d="M449.90 795.30L454.50 799.90L449.90 804.50L445.30 799.90Z" fill="none" stroke="#f8004c" stroke-width="2.55" stroke-linejoin="miter"/>
<path d="M424.00 802.90L428.60 807.50L424.00 812.10L419.40 807.50Z" fill="none" stroke="#f8004c" stroke-width="2.55" stroke-linejoin="miter"/>
<text x="169.80" y="858.30" font-size="18.5" font-weight="bold" text-anchor="middle" >Familiar</text>
<text x="242.70" y="858.30" font-size="18.5" font-weight="bold" text-anchor="middle" >Novel</text>
<text x="364.30" y="858.30" font-size="18.5" font-weight="bold" text-anchor="middle" >Familiar</text>
<text x="437.50" y="858.30" font-size="18.5" font-weight="bold" text-anchor="middle" >Novel</text>
<text x="303.40" y="889.60" font-size="20.2" font-weight="bold" text-anchor="middle" >Object</text>
<line x1="170.70" y1="600.50" x2="437.00" y2="600.50" stroke="#000" stroke-width="3.3" stroke-linecap="butt"/>
<line x1="170.70" y1="589.50" x2="170.70" y2="610.90" stroke="#000" stroke-width="3.5" stroke-linecap="butt"/>
<line x1="437.00" y1="589.50" x2="437.00" y2="610.90" stroke="#000" stroke-width="3.5" stroke-linecap="butt"/>
<line x1="303.70" y1="575.70" x2="303.70" y2="592.00" stroke="#000" stroke-width="1.9" stroke-linecap="round"/>
<line x1="299.40" y1="579.60" x2="308.00" y2="579.60" stroke="#000" stroke-width="2.0" stroke-linecap="round"/>
<path d="M170.00 722.40V647.60H242.40V662.00" fill="none" stroke="#000" stroke-width="2.3" stroke-linejoin="miter"/>
<path d="M198.97 632.65L198.97 628.50M198.97 632.65L198.97 636.80M198.97 632.65L194.79 630.52M198.97 632.65L194.79 634.78M198.97 632.65L203.16 630.52M198.97 632.65L203.16 634.78" stroke="#000" stroke-width="1.9" stroke-linecap="round" fill="none"/>
<circle cx="198.97" cy="628.50" r="1.2" fill="#000"/>
<circle cx="198.97" cy="636.80" r="1.2" fill="#000"/>
<circle cx="194.79" cy="630.52" r="1.2" fill="#000"/>
<circle cx="194.79" cy="634.78" r="1.2" fill="#000"/>
<circle cx="203.16" cy="630.52" r="1.2" fill="#000"/>
<circle cx="203.16" cy="634.78" r="1.2" fill="#000"/>
<path d="M213.42 632.65L213.42 628.50M213.42 632.65L213.42 636.80M213.42 632.65L209.24 630.52M213.42 632.65L209.24 634.78M213.42 632.65L217.61 630.52M213.42 632.65L217.61 634.78" stroke="#000" stroke-width="1.9" stroke-linecap="round" fill="none"/>
<circle cx="213.42" cy="628.50" r="1.2" fill="#000"/>
<circle cx="213.42" cy="636.80" r="1.2" fill="#000"/>
<circle cx="209.24" cy="630.52" r="1.2" fill="#000"/>
<circle cx="209.24" cy="634.78" r="1.2" fill="#000"/>
<circle cx="217.61" cy="630.52" r="1.2" fill="#000"/>
<circle cx="217.61" cy="634.78" r="1.2" fill="#000"/>
<path d="M364.00 707.30V647.60H437.00V702.50" fill="none" stroke="#000" stroke-width="2.3" stroke-linejoin="miter"/>
<text x="400.80" y="636.60" font-size="20.7" font-weight="normal" text-anchor="middle" >ns</text>
<text x="872.90" y="553.40" font-size="23.4" font-weight="bold" text-anchor="middle" >Standard NOR</text>
<text transform="translate(645.30,707.25) rotate(-90)" x="0" y="0" font-size="20.2" font-weight="bold" text-anchor="middle">Exploration (seconds)</text>
<rect x="716.30" y="785.70" width="45.6" height="42.80" fill="#808080" stroke="#000" stroke-width="3.4"/>
<path d="M718.80 827.50V788.20H759.40V827.50" fill="none" stroke="#989898" stroke-width="1"/>
<rect x="789.20" y="736.50" width="45.6" height="92.00" fill="#808080" stroke="#000" stroke-width="3.4"/>
<path d="M791.70 827.50V739.00H832.30V827.50" fill="none" stroke="#989898" stroke-width="1"/>
<rect x="910.80" y="775.90" width="45.6" height="52.60" fill="#ff80b3" stroke="#f8004c" stroke-width="3.4"/>
<path d="M913.30 827.50V778.40H953.90V827.50" fill="none" stroke="#ff92c0" stroke-width="1"/>
<rect x="984.00" y="768.90" width="45.6" height="59.60" fill="#ff80b3" stroke="#f8004c" stroke-width="3.4"/>
<path d="M986.50 827.50V771.40H1027.10V827.50" fill="none" stroke="#ff92c0" stroke-width="1"/>
<line x1="690.40" y1="584.50" x2="690.40" y2="828.80" stroke="#000" stroke-width="2.5" stroke-linecap="butt"/>
<line x1="681.10" y1="828.80" x2="1055.20" y2="828.80" stroke="#000" stroke-width="2.6" stroke-linecap="round"/>
<line x1="680.00" y1="828.80" x2="690.40" y2="828.80" stroke="#000" stroke-width="2.5" stroke-linecap="butt"/>
<text x="677.00" y="835.30" font-size="17.5" font-weight="bold" text-anchor="end" >0</text>
<line x1="680.00" y1="768.02" x2="690.40" y2="768.02" stroke="#000" stroke-width="2.5" stroke-linecap="butt"/>
<text x="677.00" y="774.52" font-size="17.5" font-weight="bold" text-anchor="end" >20</text>
<line x1="680.00" y1="707.25" x2="690.40" y2="707.25" stroke="#000" stroke-width="2.5" stroke-linecap="butt"/>
<text x="677.00" y="713.75" font-size="17.5" font-weight="bold" text-anchor="end" >40</text>
<line x1="680.00" y1="646.48" x2="690.40" y2="646.48" stroke="#000" stroke-width="2.5" stroke-linecap="butt"/>
<text x="677.00" y="652.98" font-size="17.5" font-weight="bold" text-anchor="end" >60</text>
<line x1="680.00" y1="585.70" x2="690.40" y2="585.70" stroke="#000" stroke-width="2.5" stroke-linecap="butt"/>
<text x="677.00" y="592.20" font-size="17.5" font-weight="bold" text-anchor="end" >80</text>
<line x1="739.10" y1="828.80" x2="739.10" y2="838.80" stroke="#000" stroke-width="2.5" stroke-linecap="butt"/>
<line x1="812.00" y1="828.80" x2="812.00" y2="838.80" stroke="#000" stroke-width="2.5" stroke-linecap="butt"/>
<line x1="933.60" y1="828.80" x2="933.60" y2="838.80" stroke="#000" stroke-width="2.5" stroke-linecap="butt"/>
<line x1="1006.80" y1="828.80" x2="1006.80" y2="838.80" stroke="#000" stroke-width="2.5" stroke-linecap="butt"/>
<path d="M732.60 738.40L737.20 743.00L732.60 747.60L728.00 743.00Z" fill="none" stroke="#000" stroke-width="2.55" stroke-linejoin="miter"/>
<path d="M745.80 741.50L750.40 746.10L745.80 750.70L741.20 746.10Z" fill="none" stroke="#000" stroke-width="2.55" stroke-linejoin="miter"/>
<path d="M719.70 776.90L724.30 781.50L719.70 786.10L715.10 781.50Z" fill="none" stroke="#000" stroke-width="2.55" stroke-linejoin="miter"/>
<path d="M745.40 777.60L750.00 782.20L745.40 786.80L740.80 782.20Z" fill="none" stroke="#000" stroke-width="2.55" stroke-linejoin="miter"/>
<path d="M758.80 775.70L763.40 780.30L758.80 784.90L754.20 780.30Z" fill="none" stroke="#000" stroke-width="2.55" stroke-linejoin="miter"/>
<path d="M732.60 783.20L737.20 787.80L732.60 792.40L728.00 787.80Z" fill="none" stroke="#000" stroke-width="2.55" stroke-linejoin="miter"/>
<path d="M732.60 793.10L737.20 797.70L732.60 802.30L728.00 797.70Z" fill="none" stroke="#000" stroke-width="2.55" stroke-linejoin="miter"/>
<path d="M719.70 800.60L724.30 805.20L719.70 809.80L715.10 805.20Z" fill="none" stroke="#000" stroke-width="2.55" stroke-linejoin="miter"/>
<path d="M745.40 798.10L750.00 802.70L745.40 807.30L740.80 802.70Z" fill="none" stroke="#000" stroke-width="2.55" stroke-linejoin="miter"/>
<path d="M758.80 796.80L763.40 801.40L758.80 806.00L754.20 801.40Z" fill="none" stroke="#000" stroke-width="2.55" stroke-linejoin="miter"/>
<path d="M812.10 669.30L816.70 673.90L812.10 678.50L807.50 673.90Z" fill="none" stroke="#000" stroke-width="2.55" stroke-linejoin="miter"/>
<path d="M812.10 685.40L816.70 690.00L812.10 694.60L807.50 690.00Z" fill="none" stroke="#000" stroke-width="2.55" stroke-linejoin="miter"/>
<path d="M812.10 707.80L816.70 712.40L812.10 717.00L807.50 712.40Z" fill="none" stroke="#000" stroke-width="2.55" stroke-linejoin="miter"/>
<path d="M805.70 726.70L810.30 731.30L805.70 735.90L801.10 731.30Z" fill="none" stroke="#000" stroke-width="2.55" stroke-linejoin="miter"/>
<path d="M818.50 733.70L823.10 738.30L818.50 742.90L813.90 738.30Z" fill="none" stroke="#000" stroke-width="2.55" stroke-linejoin="miter"/>
<path d="M792.70 746.70L797.30 751.30L792.70 755.90L788.10 751.30Z" fill="none" stroke="#000" stroke-width="2.55" stroke-linejoin="miter"/>
<path d="M805.70 751.20L810.30 755.80L805.70 760.40L801.10 755.80Z" fill="none" stroke="#000" stroke-width="2.55" stroke-linejoin="miter"/>
<path d="M818.50 748.30L823.10 752.90L818.50 757.50L813.90 752.90Z" fill="none" stroke="#000" stroke-width="2.55" stroke-linejoin="miter"/>
<path d="M831.60 751.60L836.20 756.20L831.60 760.80L827.00 756.20Z" fill="none" stroke="#000" stroke-width="2.55" stroke-linejoin="miter"/>
<path d="M812.10 771.50L816.70 776.10L812.10 780.70L807.50 776.10Z" fill="none" stroke="#000" stroke-width="2.55" stroke-linejoin="miter"/>
<path d="M933.80 723.60L938.40 728.20L933.80 732.80L929.20 728.20Z" fill="none" stroke="#f8004c" stroke-width="2.55" stroke-linejoin="miter"/>
<path d="M933.80 752.00L938.40 756.60L933.80 761.20L929.20 756.60Z" fill="none" stroke="#f8004c" stroke-width="2.55" stroke-linejoin="miter"/>
<path d="M924.30 759.50L928.90 764.10L924.30 768.70L919.70 764.10Z" fill="none" stroke="#f8004c" stroke-width="2.55" stroke-linejoin="miter"/>
<path d="M933.80 766.20L938.40 770.80L933.80 775.40L929.20 770.80Z" fill="none" stroke="#f8004c" stroke-width="2.55" stroke-linejoin="miter"/>
<path d="M924.30 776.60L928.90 781.20L924.30 785.80L919.70 781.20Z" fill="none" stroke="#f8004c" stroke-width="2.55" stroke-linejoin="miter"/>
<path d="M952.70 775.70L957.30 780.30L952.70 784.90L948.10 780.30Z" fill="none" stroke="#f8004c" stroke-width="2.55" stroke-linejoin="miter"/>
<path d="M914.20 785.50L918.80 790.10L914.20 794.70L909.60 790.10Z" fill="none" stroke="#f8004c" stroke-width="2.55" stroke-linejoin="miter"/>
<path d="M933.80 785.10L938.40 789.70L933.80 794.30L929.20 789.70Z" fill="none" stroke="#f8004c" stroke-width="2.55" stroke-linejoin="miter"/>
<path d="M943.50 781.40L948.10 786.00L943.50 790.60L938.90 786.00Z" fill="none" stroke="#f8004c" stroke-width="2.55" stroke-linejoin="miter"/>
<path d="M952.70 789.20L957.30 793.80L952.70 798.40L948.10 793.80Z" fill="none" stroke="#f8004c" stroke-width="2.55" stroke-linejoin="miter"/>
<path d="M1006.60 707.00L1011.20 711.60L1006.60 716.20L1002.00 711.60Z" fill="none" stroke="#f8004c" stroke-width="2.55" stroke-linejoin="miter"/>
<path d="M1006.60 748.80L1011.20 753.40L1006.60 758.00L1002.00 753.40Z" fill="none" stroke="#f8004c" stroke-width="2.55" stroke-linejoin="miter"/>
<path d="M987.20 758.70L991.80 763.30L987.20 767.90L982.60 763.30Z" fill="none" stroke="#f8004c" stroke-width="2.55" stroke-linejoin="miter"/>
<path d="M1016.50 760.30L1021.10 764.90L1016.50 769.50L1011.90 764.90Z" fill="none" stroke="#f8004c" stroke-width="2.55" stroke-linejoin="miter"/>
<path d="M1025.90 760.30L1030.50 764.90L1025.90 769.50L1021.30 764.90Z" fill="none" stroke="#f8004c" stroke-width="2.55" stroke-linejoin="miter"/>
<path d="M996.90 768.10L1001.50 772.70L996.90 777.30L992.30 772.70Z" fill="none" stroke="#f8004c" stroke-width="2.55" stroke-linejoin="miter"/>
<path d="M1006.60 767.20L1011.20 771.80L1006.60 776.40L1002.00 771.80Z" fill="none" stroke="#f8004c" stroke-width="2.55" stroke-linejoin="miter"/>
<path d="M1016.50 773.10L1021.10 777.70L1016.50 782.30L1011.90 777.70Z" fill="none" stroke="#f8004c" stroke-width="2.55" stroke-linejoin="miter"/>
<path d="M1006.60 778.10L1011.20 782.70L1006.60 787.30L1002.00 782.70Z" fill="none" stroke="#f8004c" stroke-width="2.55" stroke-linejoin="miter"/>
<path d="M1006.60 795.50L1011.20 800.10L1006.60 804.70L1002.00 800.10Z" fill="none" stroke="#f8004c" stroke-width="2.55" stroke-linejoin="miter"/>
<text x="739.40" y="858.30" font-size="18.5" font-weight="bold" text-anchor="middle" >Familiar</text>
<text x="812.30" y="858.30" font-size="18.5" font-weight="bold" text-anchor="middle" >Novel</text>
<text x="933.90" y="858.30" font-size="18.5" font-weight="bold" text-anchor="middle" >Familiar</text>
<text x="1007.10" y="858.30" font-size="18.5" font-weight="bold" text-anchor="middle" >Novel</text>
<text x="873.00" y="889.60" font-size="20.2" font-weight="bold" text-anchor="middle" >Object</text>
<line x1="739.05" y1="598.10" x2="1008.00" y2="598.10" stroke="#000" stroke-width="3.3" stroke-linecap="butt"/>
<line x1="739.05" y1="587.20" x2="739.05" y2="608.90" stroke="#000" stroke-width="3.5" stroke-linecap="butt"/>
<line x1="1008.00" y1="587.20" x2="1008.00" y2="608.90" stroke="#000" stroke-width="3.5" stroke-linecap="butt"/>
<text transform="translate(867.50,587.00) scale(0.82,1)" font-size="22" font-weight="normal" text-anchor="middle">$</text>
<text transform="translate(879.00,587.00) scale(0.82,1)" font-size="22" font-weight="normal" text-anchor="middle">$</text>
<path d="M739.10 728.40V645.60H812.10V659.40" fill="none" stroke="#000" stroke-width="2.3" stroke-linejoin="miter"/>
<path d="M768.38 630.05L768.38 625.90M768.38 630.05L768.38 634.20M768.38 630.05L764.19 627.92M768.38 630.05L764.19 632.18M768.38 630.05L772.56 627.92M768.38 630.05L772.56 632.18" stroke="#000" stroke-width="1.9" stroke-linecap="round" fill="none"/>
<circle cx="768.38" cy="625.90" r="1.2" fill="#000"/>
<circle cx="768.38" cy="634.20" r="1.2" fill="#000"/>
<circle cx="764.19" cy="627.92" r="1.2" fill="#000"/>
<circle cx="764.19" cy="632.18" r="1.2" fill="#000"/>
<circle cx="772.56" cy="627.92" r="1.2" fill="#000"/>
<circle cx="772.56" cy="632.18" r="1.2" fill="#000"/>
<path d="M782.83 630.05L782.83 625.90M782.83 630.05L782.83 634.20M782.83 630.05L778.64 627.92M782.83 630.05L778.64 632.18M782.83 630.05L787.01 627.92M782.83 630.05L787.01 632.18" stroke="#000" stroke-width="1.9" stroke-linecap="round" fill="none"/>
<circle cx="782.83" cy="625.90" r="1.2" fill="#000"/>
<circle cx="782.83" cy="634.20" r="1.2" fill="#000"/>
<circle cx="778.64" cy="627.92" r="1.2" fill="#000"/>
<circle cx="778.64" cy="632.18" r="1.2" fill="#000"/>
<circle cx="787.01" cy="627.92" r="1.2" fill="#000"/>
<circle cx="787.01" cy="632.18" r="1.2" fill="#000"/>
<path d="M933.80 712.90V645.60H1007.00V696.50" fill="none" stroke="#000" stroke-width="2.3" stroke-linejoin="miter"/>
<text x="970.70" y="633.70" font-size="20.7" font-weight="normal" text-anchor="middle" >ns</text>
<path d="M1014.90 93.45L1017.75 96.30L1014.90 99.15L1012.05 96.30Z" fill="none" stroke="#000" stroke-width="2.5" stroke-linejoin="miter"/>
<path d="M1014.90 130.05L1017.75 132.90L1014.90 135.75L1012.05 132.90Z" fill="none" stroke="#f8004c" stroke-width="2.5" stroke-linejoin="miter"/>
<text x="1045.70" y="104.60" font-size="22.9" font-weight="normal" text-anchor="start" >scVehicle</text>
<text x="1045.50" y="140.20" font-size="22.9" font-weight="normal" text-anchor="start" >scPCP</text>
</svg>
</body></html>
